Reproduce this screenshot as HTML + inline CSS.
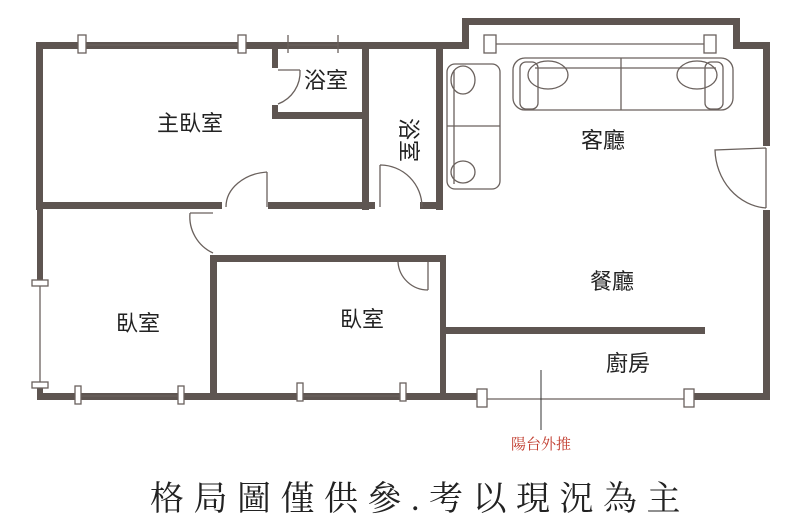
<!DOCTYPE html>
<html><head><meta charset="utf-8"><style>
html,body{margin:0;padding:0;background:#fff;width:800px;height:523px;overflow:hidden}
svg{display:block}
.t{font-family:"Liberation Sans","Noto Sans CJK TC",sans-serif;fill:#222;font-size:22px;text-anchor:middle}
</style></head><body>
<svg width="800" height="523" viewBox="0 0 800 523">
<g fill="#5e5551">
<rect x="36" y="42" width="236" height="7"/>
<rect x="272" y="42" width="168" height="7"/>
<rect x="436" y="42" width="32" height="7"/>
<rect x="462" y="18" width="278" height="7"/>
<rect x="462" y="18" width="7" height="31"/>
<rect x="733" y="18" width="7" height="31"/>
<rect x="733" y="42" width="37" height="7"/>
<rect x="36" y="42" width="7" height="168"/>
<rect x="37" y="205" width="6" height="75"/>
<rect x="37" y="385" width="6" height="15"/>
<rect x="763" y="42" width="7" height="104"/>
<rect x="763" y="210" width="7" height="190"/>
<rect x="272" y="42" width="6" height="26"/>
<rect x="272" y="105" width="6" height="13"/>
<rect x="272" y="112" width="94" height="7"/>
<rect x="362" y="42" width="7" height="168"/>
<rect x="436" y="42" width="7" height="168"/>
<rect x="36" y="202" width="186" height="7"/>
<rect x="268" y="202" width="107" height="7"/>
<rect x="420" y="202" width="23" height="7"/>
<rect x="210" y="255" width="7" height="145"/>
<rect x="210" y="255" width="236" height="7"/>
<rect x="440" y="255" width="6" height="145"/>
<rect x="440" y="327" width="265" height="7"/>
<rect x="37" y="393" width="440" height="7"/>
<rect x="690" y="393" width="80" height="7"/>
</g>
<g fill="none" stroke="#6a615d" stroke-width="1.3">
<line x1="82" y1="45" x2="244" y2="45"/>
<rect x="78" y="35" width="8" height="18" fill="#fff"/>
<rect x="238" y="35" width="8" height="18" fill="#fff"/>
<line x1="288" y1="45" x2="338" y2="45"/>
<line x1="288" y1="35" x2="288" y2="53"/><line x1="338" y1="35" x2="338" y2="53"/>
<line x1="490" y1="44" x2="712" y2="44"/>
<rect x="484" y="35" width="12" height="18" fill="#fff"/>
<rect x="704" y="35" width="12" height="18" fill="#fff"/>
<line x1="40" y1="283" x2="40" y2="385"/>
<rect x="32" y="280" width="16" height="6" fill="#fff"/>
<rect x="32" y="382" width="16" height="6" fill="#fff"/>
<line x1="78" y1="396" x2="180" y2="396"/>
<rect x="75" y="386" width="6" height="18" fill="#fff"/>
<rect x="178" y="386" width="6" height="18" fill="#fff"/>
<line x1="300" y1="396" x2="403" y2="396"/>
<rect x="297" y="383" width="6" height="18" fill="#fff"/>
<rect x="400" y="383" width="6" height="18" fill="#fff"/>
<line x1="480" y1="399" x2="690" y2="399"/>
<rect x="477" y="389" width="10" height="18" fill="#fff"/>
<rect x="684" y="389" width="10" height="18" fill="#fff"/>
<path d="M278 70 L300 70 M278 104 A34 34 0 0 0 300 70"/>
<path d="M267 172 L267 207 M267 172 A45 35 0 0 0 226 207"/>
<path d="M380 165 L380 207 M380 165 A42 42 0 0 1 422 207"/>
<path d="M213 213 L190 213 M213 253 A40 40 0 0 1 190 213"/>
<path d="M428 262 L428 290 M398 262 A30 30 0 0 0 428 290"/>
<path d="M766 148 L766 208 M766 148 L715 150 A55 60 0 0 0 766 208"/>
<rect x="447" y="64" width="53" height="125" rx="8"/>
<line x1="454" y1="70" x2="454" y2="184"/>
<line x1="447" y1="126" x2="500" y2="126"/>
<ellipse cx="463" cy="80" rx="12" ry="14"/>
<ellipse cx="463" cy="172" rx="12" ry="11"/>
<rect x="513" y="58" width="220" height="52" rx="12"/>
<line x1="621" y1="58" x2="621" y2="110"/>
<line x1="535" y1="68" x2="716" y2="68"/>
<rect x="520" y="62" width="18" height="47" rx="6"/>
<rect x="705" y="62" width="18" height="47" rx="6"/>
<ellipse cx="548" cy="75" rx="20" ry="14"/>
<ellipse cx="697" cy="75" rx="20" ry="14"/>
</g>
<line x1="541" y1="370" x2="541" y2="430" stroke="#333" stroke-width="1"/>
<text class="t" x="190" y="131">主臥室</text>
<text class="t" x="326" y="88" font-size="20">浴室</text>
<text class="t" x="0" y="0" font-size="21" transform="translate(401,140) rotate(90)">浴室</text>
<text class="t" x="603" y="148">客廳</text>
<text class="t" x="612" y="289">餐廳</text>
<text class="t" x="138" y="331">臥室</text>
<text class="t" x="362" y="327">臥室</text>
<text class="t" x="628" y="371">廚房</text>
<text x="541" y="449" font-family="'Liberation Serif','Noto Serif CJK SC',serif" font-size="15" fill="#c0392b" text-anchor="middle">陽台外推</text>
<text x="420" y="510" font-family="'Liberation Serif','Noto Serif CJK SC',serif" font-size="34" fill="#222" text-anchor="middle" letter-spacing="9.5">格局圖僅供參.考以現況為主</text>
</svg>
</body></html>
